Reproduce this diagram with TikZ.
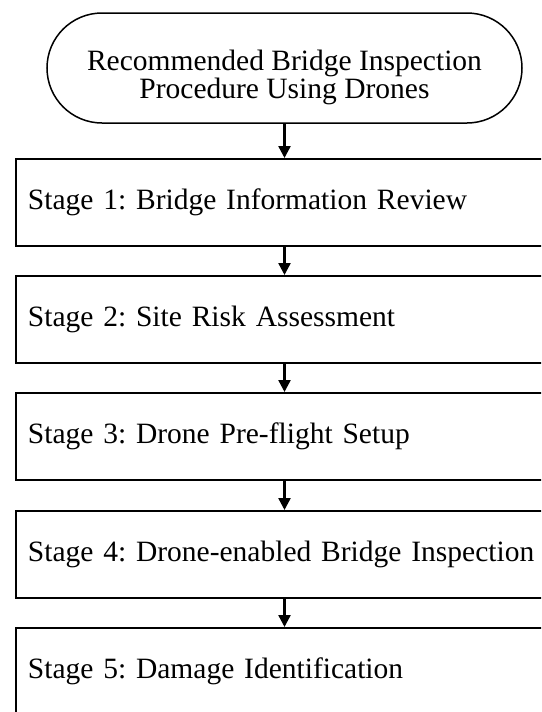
\documentclass[tikz,border=0pt]{standalone}
\usepackage{fontspec}
\setmainfont{Liberation Serif}
\usetikzlibrary{arrows.meta,shapes.misc}
\frenchspacing
\begin{document}
\begin{tikzpicture}[x=1pt,y=-1pt,
  txt/.style={font=\fontsize{29.5}{28}\selectfont\frenchspacing},
  stagebox/.style={txt, draw, line width=1.9pt, rectangle, anchor=north west,
    minimum width=560pt, minimum height=87pt, text width=536pt,
    inner xsep=12pt, inner ysep=0pt, align=left},
  startbox/.style={draw, line width=1.5pt, rounded rectangle,
    minimum width=475pt, minimum height=110pt, inner sep=0pt},
  titletext/.style={txt, align=center, inner sep=0pt},
  arr/.style={line width=2.4pt, -{Triangle[width=12pt,length=12pt]}}]
\useasboundingbox (0,0) rectangle (541,712);
\clip (0,0) rectangle (541,712);
\fill[white] (0,0) rectangle (541,712);
\node[startbox] (start) at (284.5,68) {};
\node[titletext] (title) at ([yshift=-9pt]start.center) {Recommended Bridge Inspection\\Procedure Using Drones};
\node[stagebox] (s1) at (15,158) {Stage 1: Bridge Information Review};
\node[stagebox] (s2) at (15,275) {Stage 2: Site Risk Assessment};
\node[stagebox] (s3) at (15,392) {Stage 3: Drone Pre-flight Setup};
\node[stagebox] (s4) at (15,510) {Stage 4: Drone-enabled Bridge Inspection};
\node[stagebox] (s5) at (15,627) {Stage 5: Damage Identification};
\draw[arr] (start.south) -- (start.south |- s1.north);
\draw[arr] (s1.south -| start.south) -- (s2.north -| start.south);
\draw[arr] (s2.south -| start.south) -- (s3.north -| start.south);
\draw[arr] (s3.south -| start.south) -- (s4.north -| start.south);
\draw[arr] (s4.south -| start.south) -- (s5.north -| start.south);
\end{tikzpicture}
\end{document}
